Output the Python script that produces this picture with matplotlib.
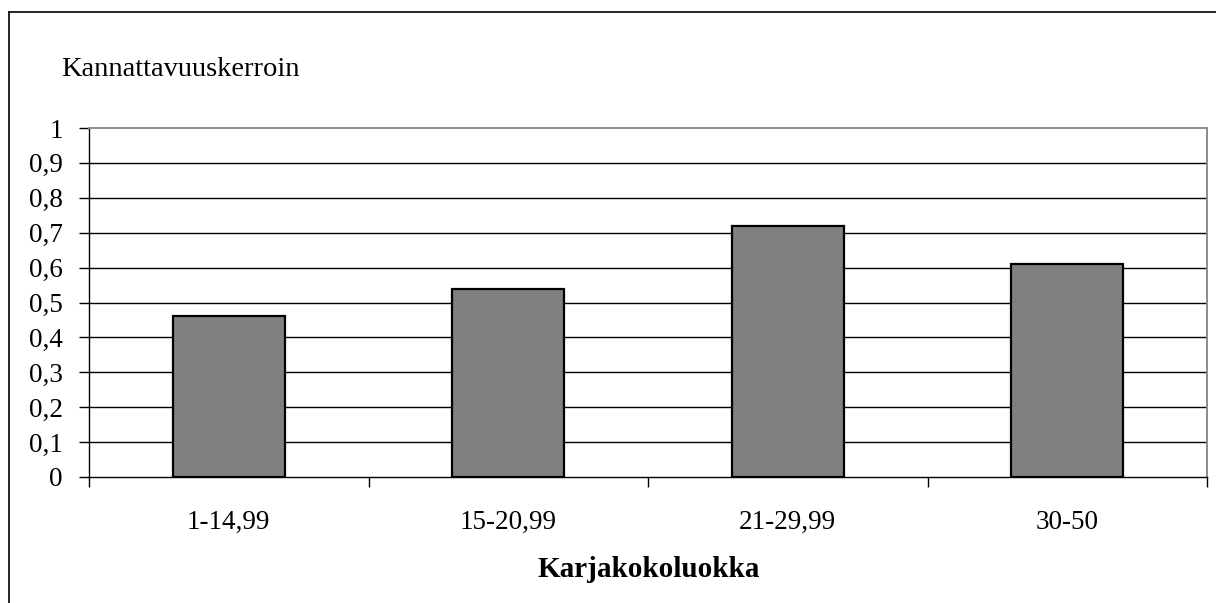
import matplotlib
matplotlib.use("Agg")
import matplotlib.pyplot as plt
from matplotlib.lines import Line2D

categories = ["1-14,99", "15-20,99", "21-29,99", "30-50"]
values = [0.46, 0.54, 0.72, 0.61]
yticks = [0, 0.1, 0.2, 0.3, 0.4, 0.5, 0.6, 0.7, 0.8, 0.9, 1.0]
yticklabels = ["0", "0,1", "0,2", "0,3", "0,4", "0,5", "0,6", "0,7", "0,8", "0,9", "1"]
ylabel_text = "Kannattavuuskerroin"
xlabel_text = "Karjakokoluokka"

plt.rcParams['font.family'] = ['Liberation Serif', 'DejaVu Serif']

W, H = 1216, 603
fig = plt.figure(figsize=(W / 100, H / 100), dpi=100)
fig.patch.set_facecolor("white")

left, right, top, bottom = 89, 1207, 128, 477
ax = fig.add_axes([left / W, 1 - bottom / H, (right - left) / W, (bottom - top) / H])

x = list(range(len(categories)))
ax.set_xlim(-0.5, len(categories) - 0.5)
ax.set_ylim(0, 1)

for yv in yticks[1:-1]:
    ax.axhline(yv, color="black", lw=1.0, zorder=1)

ax.bar(x, values, width=0.4, color="#808080", edgecolor="black", linewidth=1.6, zorder=3)

for s in ["top", "right"]:
    ax.spines[s].set_color("#8c8c8c")
    ax.spines[s].set_linewidth(1.4)
for s in ["left", "bottom"]:
    ax.spines[s].set_color("black")
    ax.spines[s].set_linewidth(1.0)

ax.set_yticks(yticks)
ax.set_yticklabels(yticklabels, fontsize=19.5)
ax.tick_params(axis="y", direction="out", length=7, width=1, pad=12, colors="black")

ax.set_xticks(x)
ax.set_xticklabels(categories, fontsize=19.5)
ax.tick_params(axis="x", which="major", length=0, pad=24)
ax.set_xticks([i - 0.5 for i in range(len(categories) + 1)], minor=True)
ax.tick_params(axis="x", which="minor", direction="out", length=7, width=1)

fig.text(61 / W, 1 - 76 / H, ylabel_text, fontsize=20.5, ha="left", va="baseline")
fig.text(649 / W, 1 - 577 / H, xlabel_text, fontsize=21, fontweight="bold", ha="center", va="baseline")

# outer chart frame
fig.add_artist(Line2D([9 / W, 9 / W], [0, 1 - 12 / H], transform=fig.transFigure, color="black", lw=1.2))
fig.add_artist(Line2D([9 / W, 1], [1 - 12 / H, 1 - 12 / H], transform=fig.transFigure, color="black", lw=1.2))

fig.savefig("out.png", dpi=100, facecolor="white")
